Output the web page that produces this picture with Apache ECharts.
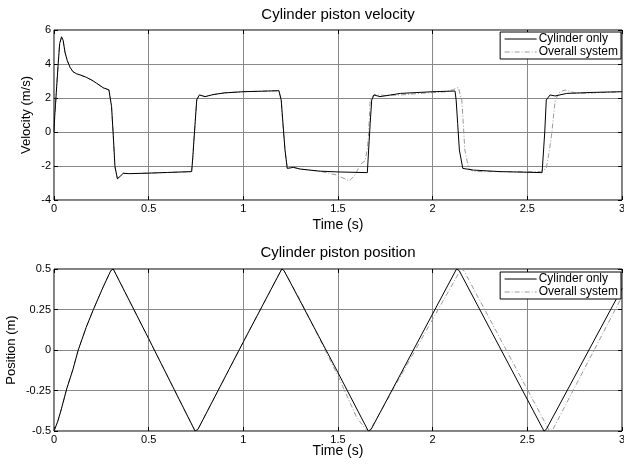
<!DOCTYPE html>
<html>
<head>
<meta charset="utf-8">
<script src="https://cdn.jsdelivr.net/npm/echarts@6.0.0/dist/echarts.min.js"></script>
<style>
  html, body { margin: 0; padding: 0; background: #fff; }
  #main { width: 624px; height: 466px; }
</style>
</head>
<body>
<div id="main"></div>
<script>
// 速度 - Cylinder only
var velTimeCyl = [0, 0.004, 0.008, 0.012, 0.016, 0.022, 0.03, 0.04, 0.048, 0.058, 0.07, 0.085, 0.1, 0.12, 0.14, 0.17, 0.2, 0.226, 0.26, 0.29, 0.3,
  0.304, 0.312, 0.322, 0.335, 0.35, 0.366, 0.4, 0.5, 0.6, 0.727, 0.733, 0.742, 0.754, 0.768, 0.798, 0.84, 0.9, 1.0, 1.1, 1.188,
  1.2, 1.21, 1.22, 1.232, 1.265, 1.3, 1.4, 1.5, 1.655, 1.662, 1.67, 1.678, 1.69, 1.722, 1.83, 2.0, 2.118,
  2.124, 2.132, 2.141, 2.159, 2.215, 2.356, 2.578, 2.585, 2.592, 2.6, 2.62, 2.647, 2.708, 2.85, 3.0];
var velCyl = [0, 1.0, 1.6, 2.3, 2.4, 4.0, 5.2, 5.6, 5.4, 4.7, 4.2, 3.8, 3.55, 3.42, 3.35, 3.22, 3.05, 2.86, 2.6, 2.48, 2.45,
  1.5, 0, -2.04, -2.75, -2.6, -2.43, -2.45, -2.42, -2.38, -2.33, -1.5, 0, 1.9, 2.18, 2.08, 2.2, 2.3, 2.37, 2.4, 2.43,
  1.88, 0.4, -1.06, -2.14, -2.08, -2.18, -2.3, -2.35, -2.39, -1.0, 0.5, 1.88, 2.18, 2.08, 2.27, 2.37, 2.41,
  1.88, 0.5, -1.06, -2.14, -2.24, -2.33, -2.39, -2.3, 0, 1.88, 2.18, 2.12, 2.27, 2.33, 2.37];

// 速度 - Overall system
var velTimeSys = [0, 0.004, 0.008, 0.012, 0.016, 0.022, 0.03, 0.04, 0.048, 0.058, 0.07, 0.085, 0.1, 0.12, 0.14, 0.17, 0.2, 0.226, 0.26, 0.29, 0.3,
  0.304, 0.312, 0.322, 0.335, 0.35, 0.366, 0.4, 0.5, 0.6, 0.727, 0.733, 0.742, 0.754, 0.768, 0.798, 0.84, 0.9, 1.0, 1.1, 1.188,
  1.2, 1.21, 1.22, 1.232, 1.265, 1.3, 1.4, 1.493, 1.56, 1.59, 1.61, 1.625, 1.643, 1.655, 1.662, 1.67, 1.685, 1.696, 1.75, 1.83, 1.933, 2.074,
  2.11, 2.136, 2.145, 2.154, 2.17, 2.19, 2.215, 2.356, 2.57, 2.6, 2.615, 2.629, 2.647, 2.673, 2.7, 2.76, 2.85, 3.0];
var velSys = [0, 1.0, 1.6, 2.3, 2.4, 4.0, 5.2, 5.6, 5.4, 4.7, 4.2, 3.8, 3.55, 3.42, 3.35, 3.22, 3.05, 2.86, 2.6, 2.48, 2.45,
  1.5, 0, -2.04, -2.75, -2.6, -2.43, -2.45, -2.42, -2.38, -2.33, -1.5, 0, 1.9, 2.18, 2.08, 2.2, 2.3, 2.37, 2.4, 2.43,
  1.88, 0.4, -1.06, -2.14, -2.08, -2.18, -2.3, -2.53, -2.88, -2.53, -2.1, -1.84, -1.7, -1.0, 0, 1.88, 2.15, 2.2, 2.15, 2.18, 2.27, 2.37,
  2.5, 2.62, 2.2, 1.88, -1.06, -2.14, -2.33, -2.33, -2.33, -2.14, -1.2, -0.08, 1.88, 2.37, 2.47, 2.27, 2.3, 2.37];

// 位置 - Cylinder only
var posTimeCyl = [0, 0.02, 0.04, 0.067, 0.1, 0.128, 0.17, 0.208, 0.26, 0.3, 0.313, 0.5, 0.745, 0.76, 1.0, 1.203, 1.215, 1.5, 1.66, 1.675, 2.126, 2.14, 2.588, 2.6, 3.0];
var posCyl = [-0.5, -0.44, -0.36, -0.24, -0.12, 0, 0.14, 0.25, 0.39, 0.49, 0.5, 0.07, -0.5, -0.49, 0.05, 0.5, 0.49, -0.14, -0.5, -0.49, 0.5, 0.49, -0.5, -0.49, 0.38];

// 位置 - Overall system
var posTimeSys = [0, 0.02, 0.04, 0.067, 0.1, 0.128, 0.17, 0.208, 0.26, 0.3, 0.313, 0.5, 0.745, 0.76, 1.0, 1.203, 1.215, 1.3, 1.5, 1.6, 1.655, 1.672, 2.15, 2.165, 2.617, 2.635, 3.0];
var posSys = [-0.5, -0.44, -0.36, -0.24, -0.12, 0, 0.14, 0.25, 0.39, 0.49, 0.5, 0.07, -0.5, -0.49, 0.05, 0.5, 0.49, 0.31, -0.16, -0.42, -0.5, -0.49, 0.5, 0.49, -0.5, -0.49, 0.33];

var timeTicks = [0, 0.5, 1, 1.5, 2, 2.5, 3];
var velTicks = [-4, -2, 0, 2, 4, 6];
var posTicks = [-0.5, -0.25, 0, 0.25, 0.5];

var names = ['Cylinder only', 'Overall system'];

function zip(xs, ys) {
  var out = [];
  for (var i = 0; i < xs.length; i++) out.push([xs[i], ys[i]]);
  return out;
}

var FONT = '"Liberation Sans", Arial, sans-serif';
var chart = echarts.init(document.getElementById('main'));

function xAx(gridIndex, nameGap) {
  return {
    type: 'value', gridIndex: gridIndex,
    min: timeTicks[0], max: timeTicks[timeTicks.length - 1], interval: timeTicks[1] - timeTicks[0],
    name: 'Time (s)', nameLocation: 'middle', nameGap: nameGap, nameMoveOverlap: false,
    nameTextStyle: { color: '#000', fontSize: 14, fontFamily: FONT },
    axisLine: { show: false, onZero: false },
    axisTick: { show: true, inside: true, length: 4, lineStyle: { color: '#000' } },
    axisLabel: { color: '#000', fontSize: 11, fontFamily: FONT, margin: 3, showMinLabel: true, showMaxLabel: true },
    splitLine: { show: true, lineStyle: { color: '#888', width: 1 } }
  };
}
function xTop(gridIndex) {
  return {
    type: 'value', gridIndex: gridIndex, position: 'top',
    min: timeTicks[0], max: timeTicks[timeTicks.length - 1], interval: timeTicks[1] - timeTicks[0],
    axisLine: { show: false, onZero: false }, axisLabel: { show: false }, splitLine: { show: false },
    axisTick: { show: true, inside: true, length: 4, lineStyle: { color: '#000' } }
  };
}
function yAx(gridIndex, ticks, name, nameGap) {
  return {
    type: 'value', gridIndex: gridIndex,
    min: ticks[0], max: ticks[ticks.length - 1], interval: ticks[1] - ticks[0],
    name: name, nameLocation: 'middle', nameGap: nameGap, nameRotate: 90, nameMoveOverlap: false,
    nameTextStyle: { color: '#000', fontSize: 13, fontFamily: FONT },
    axisLine: { show: false, onZero: false },
    axisTick: { show: true, inside: true, length: 4, lineStyle: { color: '#000' } },
    axisLabel: { color: '#000', fontSize: 11, fontFamily: FONT, margin: 3, showMinLabel: true, showMaxLabel: true },
    splitLine: { show: true, lineStyle: { color: '#888', width: 1 } }
  };
}
function yRight(gridIndex, ticks) {
  return {
    type: 'value', gridIndex: gridIndex, position: 'right',
    min: ticks[0], max: ticks[ticks.length - 1], interval: ticks[1] - ticks[0],
    axisLine: { show: false, onZero: false }, axisLabel: { show: false }, splitLine: { show: false },
    axisTick: { show: true, inside: true, length: 4, lineStyle: { color: '#000' } }
  };
}
function legendAt(top) {
  return {
    orient: 'vertical', right: 3, top: top,
    data: names,
    itemWidth: 32, itemHeight: 14, itemGap: 1,
    itemStyle: { opacity: 0 },
    lineStyle: { width: 1 },
    padding: [1, 3, 1, 4],
    borderColor: '#000', borderWidth: 1, backgroundColor: '#fff',
    textStyle: { color: '#000', fontSize: 12, fontFamily: FONT, padding: [0, 0, 0, -3] }
  };
}
var sysStyle = { color: '#9a9a9a', width: 1, type: [5, 2, 1, 2] };
var cylStyle = { color: '#000', width: 1, type: 'solid' };

chart.setOption({
  animation: false,
  backgroundColor: '#fff',
  graphic: [
    { type: 'text', x: 338, y: 7, style: { text: 'Cylinder piston velocity', font: '15px ' + FONT, fill: '#000', textAlign: 'center' } },
    { type: 'text', x: 338, y: 245, style: { text: 'Cylinder piston position', font: '15px ' + FONT, fill: '#000', textAlign: 'center' } }
  ],
  legend: [legendAt(32), legendAt(272)],
  grid: [
    { left: 54, right: 2, top: 30, height: 170, outerBoundsMode: 'none', containLabel: false, show: true, borderColor: '#000', borderWidth: 1, backgroundColor: 'transparent' },
    { left: 54, right: 2, top: 269, height: 162, outerBoundsMode: 'none', containLabel: false, show: true, borderColor: '#000', borderWidth: 1, backgroundColor: 'transparent' }
  ],
  xAxis: [xAx(0, 18), xAx(1, 13), xTop(0), xTop(1)],
  yAxis: [yAx(0, velTicks, 'Velocity (m/s)', 21), yAx(1, posTicks, 'Position (m)', 36), yRight(0, velTicks), yRight(1, posTicks)],
  series: [
    { name: names[1], type: 'line', xAxisIndex: 0, yAxisIndex: 0, symbol: 'none', lineStyle: sysStyle, itemStyle: { color: sysStyle.color }, data: zip(velTimeSys, velSys) },
    { name: names[0], type: 'line', xAxisIndex: 0, yAxisIndex: 0, symbol: 'none', lineStyle: cylStyle, itemStyle: { color: '#000' }, data: zip(velTimeCyl, velCyl) },
    { name: names[1], type: 'line', xAxisIndex: 1, yAxisIndex: 1, symbol: 'none', lineStyle: sysStyle, itemStyle: { color: sysStyle.color }, data: zip(posTimeSys, posSys) },
    { name: names[0], type: 'line', xAxisIndex: 1, yAxisIndex: 1, symbol: 'none', lineStyle: cylStyle, itemStyle: { color: '#000' }, data: zip(posTimeCyl, posCyl) }
  ]
});
</script>
</body>
</html>
